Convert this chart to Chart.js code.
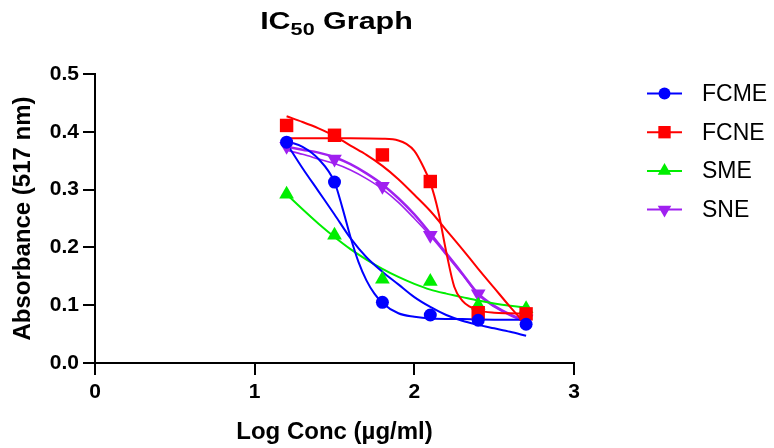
<!DOCTYPE html>
<html><head><meta charset="utf-8">
<script src="https://cdn.jsdelivr.net/npm/chart.js@4.4.0/dist/chart.umd.min.js"></script>
<style>html,body{margin:0;padding:0;background:#fff;} #wrap{width:774px;height:448px;position:relative;}</style>
</head><body><div id="wrap"><canvas id="c"></canvas></div>
<script>
// ---- data ----
const logConc = [1.2, 1.5, 1.8, 2.1, 2.4, 2.7];
const fcme = [0.382, 0.313, 0.105, 0.083, 0.074, 0.067];
const fcne = [0.411, 0.394, 0.360, 0.314, 0.087, 0.085];
const sme  = [0.292, 0.221, 0.145, 0.141, 0.100, 0.094];
const sne  = [0.375, 0.353, 0.306, 0.221, 0.120, 0.076];

// fitted curves
const fitX = [1.2, 1.3, 1.4, 1.5, 1.6, 1.7, 1.8, 1.9, 2.0, 2.1, 2.2, 2.3, 2.4, 2.5, 2.6, 2.7];
const fcmeFitAx = [1.2, 1.3, 1.4, 1.5, 1.55, 1.6, 1.65, 1.7, 1.75, 1.8, 1.9, 2.0, 2.1, 2.3, 2.5, 2.7];
const fcmeFitAy = [0.384, 0.374, 0.353, 0.313, 0.268, 0.218, 0.175, 0.143, 0.120, 0.104, 0.086, 0.080, 0.077, 0.076, 0.075, 0.075];
const fcmeFitBy = [0.380, 0.337, 0.297, 0.257, 0.216, 0.183, 0.158, 0.136, 0.114, 0.097, 0.083, 0.073, 0.066, 0.060, 0.054, 0.047];
const fcneFitAx = [1.2, 1.4, 1.6, 1.8, 1.9, 1.95, 2.0, 2.05, 2.1, 2.15, 2.2, 2.25, 2.3, 2.35, 2.4, 2.5, 2.6, 2.7];
const fcneFitAy = [0.389, 0.389, 0.389, 0.388, 0.385, 0.379, 0.367, 0.343, 0.312, 0.262, 0.192, 0.132, 0.108, 0.097, 0.091, 0.087, 0.086, 0.085];
const fcneFitBy = [0.427, 0.417, 0.406, 0.393, 0.376, 0.360, 0.341, 0.318, 0.291, 0.263, 0.230, 0.197, 0.163, 0.130, 0.097, 0.066];
const smeFitY   = [0.292, 0.266, 0.241, 0.218, 0.197, 0.179, 0.163, 0.149, 0.137, 0.127, 0.120, 0.114, 0.108, 0.103, 0.099, 0.096];
const sneFitAy  = [0.374, 0.369, 0.364, 0.356, 0.344, 0.328, 0.309, 0.285, 0.257, 0.224, 0.190, 0.155, 0.120, 0.099, 0.084, 0.072];
const sneFitBy  = [0.368, 0.361, 0.353, 0.345, 0.334, 0.319, 0.301, 0.278, 0.250, 0.220, 0.187, 0.153, 0.118, 0.097, 0.082, 0.070];

const seriesNames = ['FCME', 'FCNE', 'SME', 'SNE'];
const xTicks = [0, 1, 2, 3];
const yTicks = [0, 0.1, 0.2, 0.3, 0.4, 0.5];
const titleMain = 'IC', titleSub = '50', titleRest = ' Graph';
const xTitle = 'Log Conc (µg/ml)';
const yTitle = 'Absorbance (517 nm)';

// ---- styles ----
const colors = ['#0000FF', '#FF0000', '#00EE00', '#A020F0'];
const styles = [
  {pointStyle: 'circle', radius: 6.5, rotation: 0},
  {pointStyle: 'rect', radius: 9.5, rotation: 0},
  {pointStyle: 'triangle', radius: 8.5, rotation: 0},
  {pointStyle: 'triangle', radius: 8.5, rotation: 180}
];
const FONT = '"Liberation Sans", Arial, sans-serif';

const pts = (xs, ys) => xs.map((x, i) => ({x: x, y: ys[i]}));
const seriesValues = [fcme, fcne, sme, sne];

const markerSets = seriesValues.map((vals, i) => ({
  type: 'scatter', label: seriesNames[i], data: pts(logConc, vals),
  backgroundColor: colors[i], borderColor: colors[i], borderWidth: 0,
  pointStyle: styles[i].pointStyle, pointRadius: styles[i].radius, pointRotation: styles[i].rotation,
  showLine: false, order: i
}));
const curve = (label, xs, ys, color, w) => ({
  type: 'line', label: label, data: pts(xs, ys), borderColor: color, borderWidth: w,
  pointRadius: 0, fill: false, cubicInterpolationMode: 'monotone', order: 10
});
const curveSets = [
  curve('FCME fit A', fcmeFitAx, fcmeFitAy, colors[0], 2),
  curve('FCME fit B', fitX, fcmeFitBy, colors[0], 2),
  curve('FCNE fit A', fcneFitAx, fcneFitAy, colors[1], 2),
  curve('FCNE fit B', fitX, fcneFitBy, colors[1], 2),
  curve('SME fit', fitX, smeFitY, colors[2], 2),
  curve('SNE fit A', fitX, sneFitAy, colors[3], 2.5),
  curve('SNE fit B', fitX, sneFitBy, colors[3], 1.6)
];

function drawMarker(ctx, st, color, x, y) {
  ctx.save();
  ctx.fillStyle = color; ctx.strokeStyle = color;
  if (Chart.helpers && Chart.helpers.drawPoint) {
    Chart.helpers.drawPoint(ctx, {pointStyle: st.pointStyle, radius: st.radius, rotation: st.rotation, borderWidth: 0}, x, y);
  }
  ctx.restore();
}

const titlePlugin = {
  id: 'icTitle',
  afterDraw(chart) {
    const ctx = chart.ctx, k = 1.27;
    const big = 'bold 24px ' + FONT, small = 'bold 17px ' + FONT;
    ctx.save();
    ctx.font = big; const w1 = ctx.measureText(titleMain).width; const w3 = ctx.measureText(titleRest).width;
    ctx.font = small; const w2 = ctx.measureText(titleSub).width;
    const total = (w1 + w2 + w3) * k;
    const cx = (chart.chartArea.left + chart.chartArea.right) / 2 + 2;
    const base = 28.5;
    ctx.translate(cx - total / 2, 0);
    ctx.scale(k, 1);
    ctx.fillStyle = '#000'; ctx.textBaseline = 'alphabetic'; ctx.textAlign = 'left';
    ctx.font = big; ctx.fillText(titleMain, 0, base);
    ctx.font = small; ctx.fillText(titleSub, w1, base + 6.5);
    ctx.font = big; ctx.fillText(titleRest, w1 + w2, base);
    ctx.restore();
  }
};

const legendPlugin = {
  id: 'lineLegend',
  afterDraw(chart) {
    const ctx = chart.ctx;
    const x0 = chart.chartArea.right + 73, lineLen = 35, textX = chart.chartArea.right + 128;
    const top = 93.5, gap = 38.7;
    ctx.save();
    seriesNames.forEach((name, i) => {
      const y = top + i * gap;
      ctx.strokeStyle = colors[i]; ctx.lineWidth = 2;
      ctx.beginPath(); ctx.moveTo(x0, y); ctx.lineTo(x0 + lineLen, y); ctx.stroke();
      const st = Object.assign({}, styles[i], {radius: styles[i].radius * 0.92});
      drawMarker(ctx, st, colors[i], x0 + lineLen / 2, y);
      ctx.fillStyle = '#000'; ctx.font = '23px ' + FONT; ctx.textBaseline = 'middle'; ctx.textAlign = 'left';
      ctx.fillText(name, textX, y + 1);
    });
    ctx.restore();
  }
};

new Chart(document.getElementById('c'), {
  data: {datasets: markerSets.concat(curveSets)},
  options: {
    responsive: true, maintainAspectRatio: false, animation: false, devicePixelRatio: 1,
    layout: {padding: {top: 74, right: 200, left: 0, bottom: 0}},
    plugins: {legend: {display: false}, title: {display: false}, tooltip: {enabled: false}},
    scales: {
      x: {
        type: 'linear', min: 0, max: 3,
        afterBuildTicks: s => { s.ticks = xTicks.map(v => ({value: v})); },
        afterFit: s => { s.height = 85; },
        border: {display: true, color: '#000', width: 2},
        grid: {display: true, drawOnChartArea: false, drawTicks: true, tickLength: 12, color: '#000', lineWidth: 2},
        ticks: {color: '#000', padding: 5, font: {family: FONT, size: 21, weight: 'bold'}, callback: v => String(v)},
        title: {display: true, text: xTitle, color: '#000', padding: {top: 0, bottom: 1}, font: {family: FONT, size: 24, weight: 'bold'}}
      },
      y: {
        type: 'linear', min: 0, max: 0.5,
        afterBuildTicks: s => { s.ticks = yTicks.map(v => ({value: v})); },
        afterFit: s => { s.width = 95; },
        border: {display: true, color: '#000', width: 2},
        grid: {display: true, drawOnChartArea: false, drawTicks: true, tickLength: 12, color: '#000', lineWidth: 2},
        ticks: {color: '#000', padding: 4, font: {family: FONT, size: 21, weight: 'bold'}, callback: v => Number(v).toFixed(1)},
        title: {display: true, text: yTitle, color: '#000', padding: {top: 9, bottom: 4}, font: {family: FONT, size: 24, weight: 'bold'}}
      }
    }
  },
  plugins: [titlePlugin, legendPlugin]
});
</script></body></html>
